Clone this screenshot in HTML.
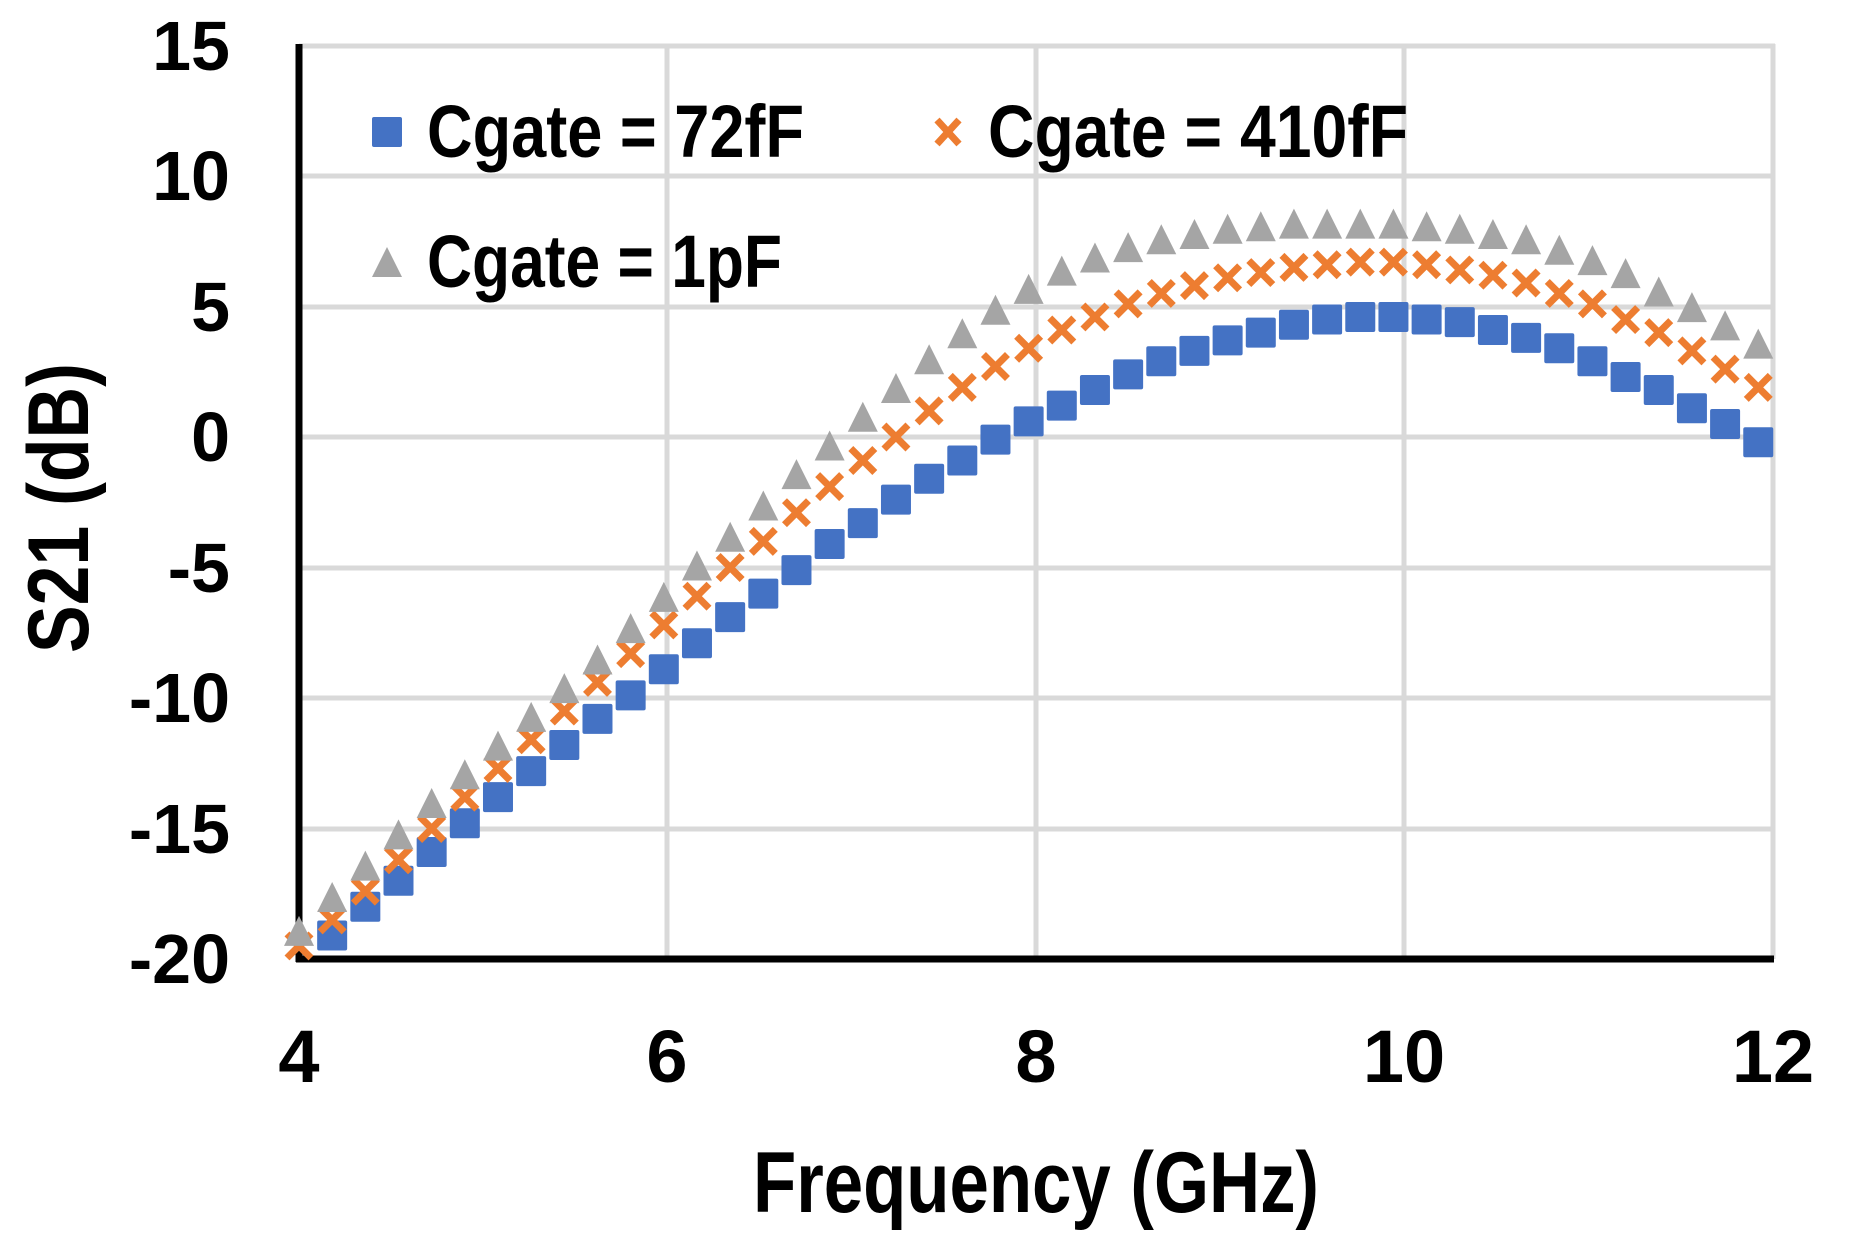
<!DOCTYPE html>
<html><head><meta charset="utf-8"><style>
html,body{margin:0;padding:0;background:#fff;}
svg{display:block;}
text{font-family:"Liberation Sans",sans-serif;font-weight:bold;fill:#000;}
</style></head><body>
<svg id="c" width="1868" height="1252" viewBox="0 0 1868 1252" xmlns="http://www.w3.org/2000/svg">
<g stroke="#d9d9d9" stroke-width="5">
<line x1="299" y1="46" x2="1775" y2="46"/>
<line x1="299" y1="176" x2="1775" y2="176"/>
<line x1="299" y1="307" x2="1775" y2="307"/>
<line x1="299" y1="437" x2="1775" y2="437"/>
<line x1="299" y1="568" x2="1775" y2="568"/>
<line x1="299" y1="698" x2="1775" y2="698"/>
<line x1="299" y1="829" x2="1775" y2="829"/>
<line x1="667" y1="44" x2="667" y2="959"/>
<line x1="1036" y1="44" x2="1036" y2="959"/>
<line x1="1404" y1="44" x2="1404" y2="959"/>
<line x1="1773" y1="44" x2="1773" y2="959"/>
</g>
<line x1="299" y1="44" x2="299" y2="962" stroke="#000" stroke-width="7"/>
<line x1="296" y1="959" x2="1774" y2="959" stroke="#000" stroke-width="7"/>
<g font-size="70" text-anchor="end">
<text x="230" y="70">15</text>
<text x="230" y="200">10</text>
<text x="230" y="331">5</text>
<text x="230" y="461">0</text>
<text x="230" y="592">-5</text>
<text x="230" y="722">-10</text>
<text x="230" y="853">-15</text>
<text x="230" y="983">-20</text>
</g>
<g font-size="74" text-anchor="middle">
<text x="299" y="1082">4</text>
<text x="667" y="1082">6</text>
<text x="1036" y="1082">8</text>
<text x="1404" y="1082">10</text>
<text x="1773" y="1082">12</text>
</g>
<text x="1036" y="1212" font-size="86" text-anchor="middle" textLength="566" lengthAdjust="spacingAndGlyphs">Frequency (GHz)</text>
<text transform="translate(88,508) rotate(-90)" font-size="86" text-anchor="middle" textLength="290" lengthAdjust="spacingAndGlyphs">S21 (dB)</text>
<g id="pts"></g>
<rect x="372" y="117" width="30" height="30" rx="2" fill="#4472c4"/>
<text x="427" y="157" font-size="74" textLength="377" lengthAdjust="spacingAndGlyphs">Cgate = 72fF</text>
<path d="M937 120 L959 144 M959 120 L937 144" stroke="#ed7d31" stroke-width="7"/>
<text x="988" y="157" font-size="74" textLength="420" lengthAdjust="spacingAndGlyphs">Cgate = 410fF</text>
<polygon points="387,247 402,277 372,277" fill="#a5a5a5"/>
<text x="427" y="287" font-size="74" textLength="355" lengthAdjust="spacingAndGlyphs">Cgate = 1pF</text>
</svg>
<script>
var B=[null,-19.1,-18,-17,-15.9,-14.8,-13.8,-12.8,-11.8,-10.8,-9.9,-8.9,-7.9,-6.9,-6,-5.1,-4.1,-3.3,-2.4,-1.6,-0.9,-0.1,0.6,1.2,1.8,2.4,2.9,3.3,3.7,4.0,4.3,4.5,4.6,4.6,4.5,4.4,4.1,3.8,3.4,2.9,2.3,1.8,1.1,0.5,-0.2];
var O=[-19.5,-18.5,-17.4,-16.2,-15,-13.8,-12.7,-11.6,-10.5,-9.4,-8.3,-7.2,-6.1,-5,-4,-2.9,-1.9,-0.9,0,1,1.9,2.7,3.4,4.1,4.6,5.1,5.5,5.8,6.1,6.3,6.5,6.6,6.7,6.7,6.6,6.4,6.2,5.9,5.5,5.1,4.5,4,3.3,2.6,1.9];
var G=[-19,-17.7,-16.5,-15.3,-14.1,-13,-11.9,-10.8,-9.7,-8.6,-7.4,-6.2,-5,-3.9,-2.7,-1.5,-0.4,0.7,1.8,2.9,3.9,4.8,5.6,6.3,6.8,7.2,7.5,7.7,7.9,8.0,8.1,8.1,8.1,8.1,8.0,7.9,7.7,7.5,7.1,6.7,6.2,5.5,4.9,4.2,3.5];
function X(i){return 299+(i*0.18)*184.25;}
function Y(v){return 437-v*26.1;}
var s='';
for(var i=0;i<45;i++){if(B[i]===null)continue;var x=X(i),y=Y(B[i]);s+='<rect x="'+(x-15)+'" y="'+(y-15)+'" width="30" height="30" rx="2" fill="#4472c4"/>';}
for(var i=0;i<45;i++){var x=X(i),y=Y(O[i]);s+='<path d="M'+(x-12)+' '+(y-12)+' L'+(x+12)+' '+(y+12)+' M'+(x+12)+' '+(y-12)+' L'+(x-12)+' '+(y+12)+'" stroke="#ed7d31" stroke-width="7"/>';}
for(var i=0;i<45;i++){var x=X(i),y=Y(G[i]);s+='<polygon points="'+x+','+(y-17)+' '+(x+15)+','+(y+13)+' '+(x-15)+','+(y+13)+'" fill="#a5a5a5"/>';}
document.getElementById('pts').innerHTML=s;
</script>
</body></html>
